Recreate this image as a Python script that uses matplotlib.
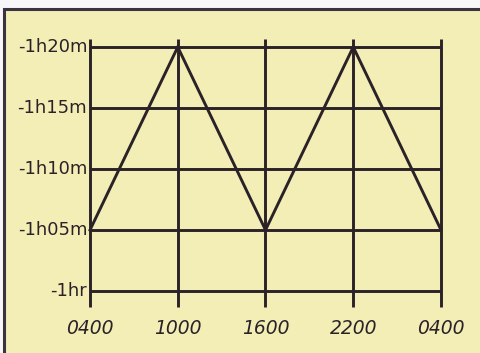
import matplotlib
matplotlib.use("Agg")
import matplotlib.pyplot as plt
from matplotlib.patches import Rectangle

# Tidal-style offset over a day: time of day (hours from 0400) vs. offset in minutes
hours = [0, 6, 12, 18, 24]
offset_min = [65, 80, 65, 80, 65]
x_tick_labels = ["0400", "1000", "1600", "2200", "0400"]
y_ticks = [60, 65, 70, 75, 80]
y_tick_labels = ["-1hr", "-1h05m", "-1h10m", "-1h15m", "-1h20m"]

W, H = 481, 353
INK = "#2b2228"
PAPER = "#f3eeb6"

fig = plt.figure(figsize=(W / 100, H / 100), dpi=100)
fig.patch.set_facecolor("#f8f6f8")

# framed yellow panel
fig.patches.append(Rectangle((4 / W, -0.05), 1.1, (H - 9) / H + 0.05,
                             transform=fig.transFigure, facecolor=PAPER,
                             edgecolor="#3a3440", linewidth=2.2, zorder=-5))

left, right = 90 / W, 441 / W
bottom, top = (H - 291) / H, (H - 47) / H
ax = fig.add_axes([left, bottom, right - left, top - bottom], zorder=2)
ax.set_facecolor("none")
ax.set_xlim(hours[0], hours[-1])
ax.set_ylim(y_ticks[0], y_ticks[-1])
for s in ax.spines.values():
    s.set_visible(False)
ax.set_xticks([])
ax.set_yticks([])

lw = 2.1
# horizontal grid lines
ax.hlines(y_ticks, hours[0], hours[-1], color=INK, linewidth=lw, clip_on=False)
# vertical grid lines extend a little beyond the frame
ax.vlines(hours, y_ticks[0] - 1.3, y_ticks[-1] + 0.65, color=INK, linewidth=lw,
          clip_on=False)

ax.plot(hours, offset_min, color=INK, linewidth=lw, clip_on=False,
        solid_joinstyle="miter")

for y, lab in zip(y_ticks, y_tick_labels):
    ax.annotate(lab, (hours[0], y), xytext=(-2, 0), textcoords="offset points",
                ha="right", va="center", fontsize=13, color=INK,
                family="DejaVu Sans")
for x, lab in zip(hours, x_tick_labels):
    ax.annotate(lab, (x, y_ticks[0]), xytext=(0, -27), textcoords="offset points",
                ha="center", va="center", fontsize=13.5, color=INK,
                style="italic", family="DejaVu Sans")

fig.savefig("out.png", dpi=100)
